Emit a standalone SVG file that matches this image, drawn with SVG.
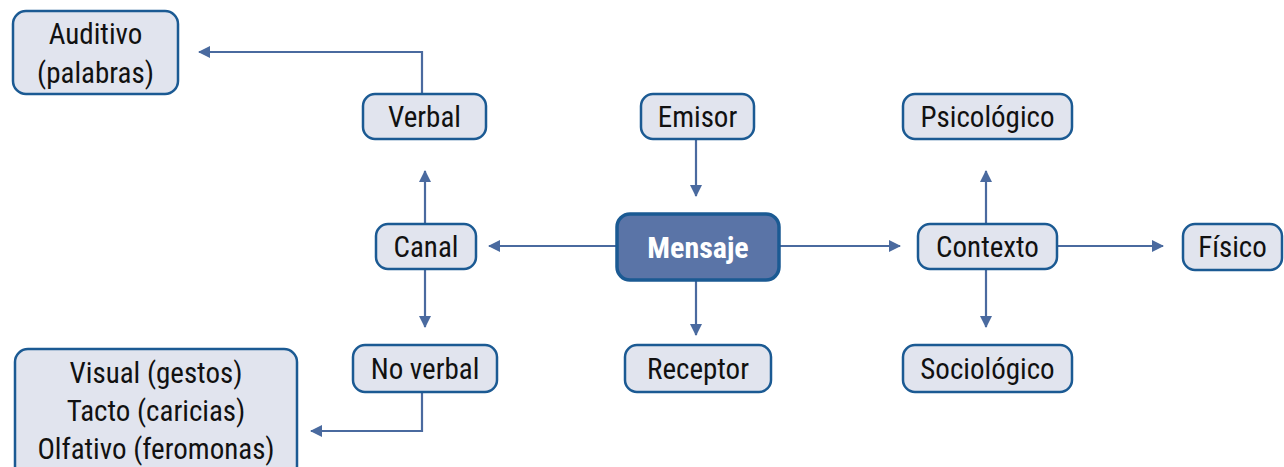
<svg xmlns="http://www.w3.org/2000/svg" width="1284" height="467" viewBox="0 0 1284 467">
<defs>
<marker id="ah" markerWidth="12" markerHeight="12" refX="11" refY="6" orient="auto" markerUnits="userSpaceOnUse">
<path d="M0,0 L12,6 L0,12 Z" fill="#4a6a9f"/>
</marker>
</defs>
<style>
.box{fill:#e1e4ee;stroke:#1b5a93;stroke-width:2.5}
.main{fill:#5a74a7;stroke:#1b5a93;stroke-width:3.5}
text{font-family:"Liberation Sans Narrow","Roboto Condensed","Liberation Sans",sans-serif;font-size:29px;fill:#111;text-anchor:middle}
.w{fill:#fff;font-weight:bold;font-size:30px}
.c{fill:none;stroke:#4a6a9f;stroke-width:2.2}
</style>
<rect width="1284" height="467" fill="#fff"/>
<g id="connectors">
<path class="c" d="M422,94 V52 H199" marker-end="url(#ah)"/>
<path class="c" d="M422,392 V431 H311" marker-end="url(#ah)"/>
<path class="c" d="M696,139 V196" marker-end="url(#ah)"/>
<path class="c" d="M696,280 V335" marker-end="url(#ah)"/>
<path class="c" d="M616,246 H489" marker-end="url(#ah)"/>
<path class="c" d="M779,246 H900" marker-end="url(#ah)"/>
<path class="c" d="M425,224 V171" marker-end="url(#ah)"/>
<path class="c" d="M425,269 V327" marker-end="url(#ah)"/>
<path class="c" d="M986,224 V171" marker-end="url(#ah)"/>
<path class="c" d="M986,269 V327" marker-end="url(#ah)"/>
<path class="c" d="M1057,246 H1163" marker-end="url(#ah)"/>
</g>
<g id="auditivo"><rect class="box" x="13" y="11" width="165" height="83" rx="13"/><text x="95.5" y="44">Auditivo</text><text x="95.5" y="83">(palabras)</text></g>
<g id="verbal"><rect class="box" x="363" y="94" width="123" height="45" rx="12"/><text x="424.5" y="127">Verbal</text></g>
<g id="emisor"><rect class="box" x="641" y="94" width="113" height="45" rx="12"/><text x="697.5" y="127">Emisor</text></g>
<g id="psicologico"><rect class="box" x="903" y="94" width="169" height="45" rx="12"/><text x="987.5" y="127">Psicológico</text></g>
<g id="canal"><rect class="box" x="376" y="224" width="100" height="45" rx="12"/><text x="426" y="257">Canal</text></g>
<g id="mensaje"><rect class="main" x="617" y="214" width="162" height="66" rx="13"/><text class="w" x="698" y="258">Mensaje</text></g>
<g id="contexto"><rect class="box" x="918" y="224" width="139" height="45" rx="12"/><text x="987.5" y="257">Contexto</text></g>
<g id="fisico"><rect class="box" x="1183" y="224" width="99" height="46" rx="12"/><text x="1232.5" y="257">Físico</text></g>
<g id="noverbal"><rect class="box" x="353" y="345" width="144" height="47" rx="12"/><text x="425" y="379">No verbal</text></g>
<g id="receptor"><rect class="box" x="625" y="345" width="146" height="47" rx="12"/><text x="698" y="379">Receptor</text></g>
<g id="sociologico"><rect class="box" x="903" y="345" width="169" height="47" rx="12"/><text x="987.5" y="379">Sociológico</text></g>
<g id="canales-nv"><rect class="box" x="15" y="349" width="282" height="130" rx="13"/><text x="156" y="383">Visual (gestos)</text><text x="156" y="421">Tacto (caricias)</text><text x="156" y="459">Olfativo (feromonas)</text></g>
</svg>
